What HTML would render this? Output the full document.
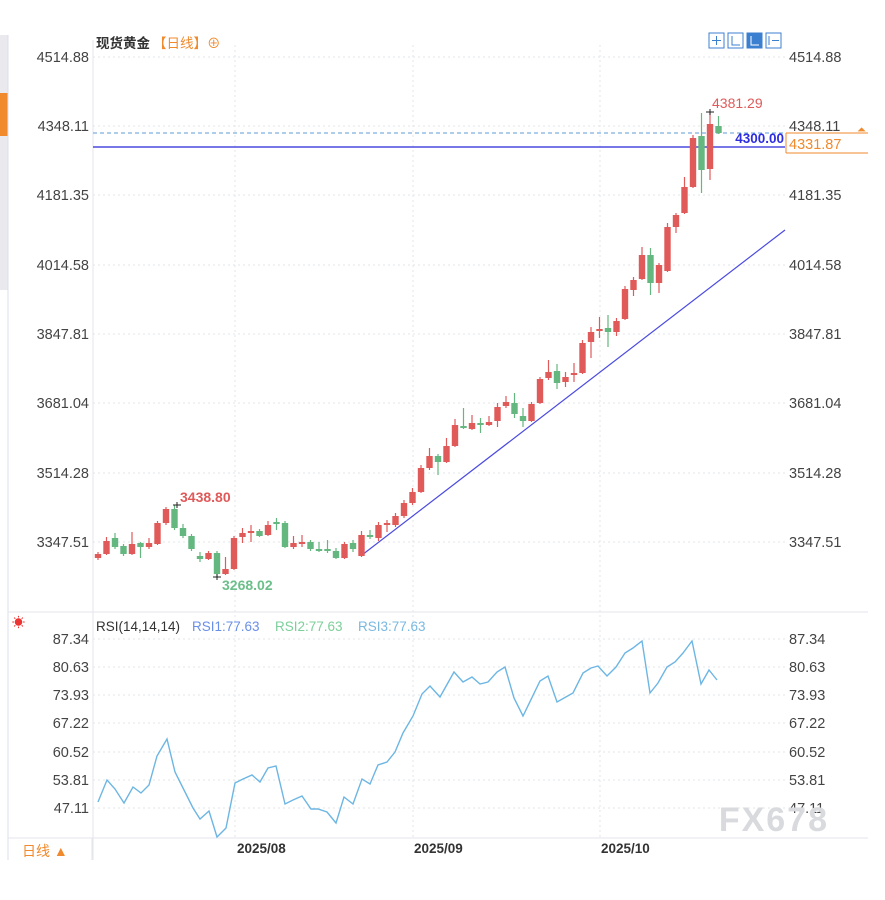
<!DOCTYPE html>
<html><head><meta charset="utf-8"><style>
html,body{margin:0;padding:0;background:#fff;width:885px;height:900px;overflow:hidden}
text{font-family:"Liberation Sans","Noto Sans CJK SC",sans-serif}
</style></head><body>
<svg id="s" width="885" height="900" xmlns="http://www.w3.org/2000/svg">
<rect x="0" y="0" width="885" height="900" fill="#fff"/>
<rect x="0" y="35" width="8" height="255" fill="#e9e9ee"/>
<rect x="0" y="93" width="8" height="43" fill="#f08a2c"/>
<line x1="8" y1="35" x2="8" y2="860" stroke="#dde" stroke-width="1"/>
<line x1="93" y1="40" x2="93" y2="860" stroke="#e4e6ec"/>
<line x1="8" y1="612" x2="868" y2="612" stroke="#e4e6ec"/>
<line x1="8" y1="838" x2="868" y2="838" stroke="#e4e6ec"/>
<g id="grid" stroke="#e2e5ea" stroke-dasharray="2,3"></g>
<g id="labels" font-size="14.5" fill="#444"></g>
<text x="96" y="48" font-size="13.5" fill="#333" font-weight="bold">现货黄金</text>
<text x="153" y="48" font-size="13.5" fill="#f08a2c">【日线】⊕</text>
<g fill="none" stroke="#3b7fd0">
<rect x="709" y="33" width="15" height="15"/><rect x="728" y="33" width="15" height="15"/>
<rect x="747" y="33" width="15" height="15" fill="#3b7fd0"/><rect x="766" y="33" width="15" height="15"/>
<path d="M716.5 36v9M712 40.5h9M732 36v9h8M769 36v9M772 40.5h7"/>
<path d="M751 36v9h8" stroke="#fff"/>
</g>
<line x1="93" y1="133" x2="785" y2="133" stroke="#5b9bd5" stroke-dasharray="4,3"/>
<line x1="93" y1="147" x2="785" y2="147" stroke="#4a4ae0" stroke-width="1.5"/>
<line x1="362" y1="555" x2="785" y2="230" stroke="#4a4ae0" stroke-width="1.2"/>
<text x="784" y="143" font-size="13.5" fill="#2e2ee0" font-weight="bold" text-anchor="end">4300.00</text>
<path d="M786 133H868M786 153H868M786 133V153" stroke="#f08a2c" fill="none"/>
<text x="789" y="149" font-size="14.5" fill="#f08a2c">4331.87</text>
<text x="857" y="133" font-size="11" fill="#f08a2c">⏶</text>
<g id="candles"></g>
<text x="712" y="108" font-size="14" fill="#e05a5a">4381.29</text>
<text x="180" y="502" font-size="14" fill="#e05a5a" font-weight="bold">3438.80</text>
<text x="222" y="590" font-size="14" fill="#6cbf8a" font-weight="bold">3268.02</text>
<text x="12" y="627" font-size="13" fill="#e33">☀</text>
<text x="96" y="631" font-size="13.5" fill="#333">RSI(14,14,14)</text>
<text x="192" y="631" font-size="13.5" fill="#6a8fe8">RSI1:77.63</text>
<text x="275" y="631" font-size="13.5" fill="#7ccf9a">RSI2:77.63</text>
<text x="358" y="631" font-size="13.5" fill="#7ab8e0">RSI3:77.63</text>
<polyline id="rsi" fill="none" stroke="#6db6e3" stroke-width="1.4"/>
<text x="829" y="831" font-size="34" fill="#d8dade" text-anchor="end" font-weight="bold" letter-spacing="2">FX678</text>
<line x1="92" y1="838" x2="92" y2="860" stroke="#e4e6ec"/>
<text x="22" y="856" font-size="14" fill="#f08a2c">日线 ▲</text>
<g font-size="13.5" fill="#333" font-weight="bold">
<text x="237" y="853">2025/08</text><text x="414" y="853">2025/09</text><text x="601" y="853">2025/10</text>
</g>
</svg>
<script>
var NS="http://www.w3.org/2000/svg";
function el(p,t,a,txt){var e=document.createElementNS(NS,t);for(var k in a)e.setAttribute(k,a[k]);if(txt)e.textContent=txt;document.getElementById(p).appendChild(e);return e;}
var py=[57,126,195,265,334,403,473,542],pl=["4514.88","4348.11","4181.35","4014.58","3847.81","3681.04","3514.28","3347.51"];
py.forEach(function(y,i){el("grid","line",{x1:93,y1:y,x2:785,y2:y});el("labels","text",{x:89,y:y+5,"text-anchor":"end"},pl[i]);el("labels","text",{x:789,y:y+5},pl[i]);});
var ry=[639,667,695,723,752,780,808],rl=["87.34","80.63","73.93","67.22","60.52","53.81","47.11"];
ry.forEach(function(y,i){el("grid","line",{x1:93,y1:y,x2:785,y2:y});el("labels","text",{x:89,y:y+5,"text-anchor":"end"},rl[i]);el("labels","text",{x:789,y:y+5},rl[i]);});
[235,413,600].forEach(function(x){el("grid","line",{x1:x,y1:45,x2:x,y2:838});});
var C=[[554,558,552,560,1],[541,554,537,555,1],[538,547,533,549,0],[546,554,544,556,0],[544,554,532,555,1],[543,547,542,558,0],[543,547,538,549,1],[523,544,521,545,1],[509,523,507,525,1],[509,528,505,530,0],[528,536,524,538,0],[536,549,534,551,0],[556,559,552,562,0],[553,559,551,560,1],[553,574,551,577,0],[569,574,557,575,1],[538,569,536,570,1],[533,537,528,543,1],[531,533,525,542,1],[531,536,529,537,0],[525,535,521,536,1],[522,524,518,530,0],[523,547,521,548,0],[543,547,536,549,1],[542,544,535,547,1],[542,549,540,551,0],[549,551,542,552,0],[549,551,540,553,0],[551,558,548,559,0],[544,558,542,559,1],[543,549,540,552,0],[535,556,531,557,1],[535,537,530,539,0],[525,538,522,541,1],[523,525,520,532,1],[516,525,513,527,1],[503,516,500,518,1],[492,503,488,505,1],[468,492,465,493,1],[456,468,448,470,1],[456,462,454,475,0],[446,462,438,463,1],[425,446,419,447,1],[426,428,408,429,0],[423,429,415,430,1],[423,425,418,433,0],[422,425,416,426,1],[407,421,403,427,1],[402,406,396,408,1],[403,414,393,418,0],[416,421,408,427,0],[404,421,402,422,1],[379,403,377,404,1],[372,378,360,380,1],[371,383,364,389,0],[377,382,372,387,1],[373,375,363,382,1],[343,373,340,374,1],[332,342,327,358,1],[329,331,317,338,1],[328,332,315,347,0],[321,332,318,336,1],[289,319,286,320,1],[280,290,277,296,1],[255,279,247,280,1],[255,283,248,295,0],[265,283,263,293,1],[227,271,223,272,1],[215,227,213,233,1],[187,213,177,214,1],[138,187,135,188,1],[136,170,113,193,0],[124,169,112,180,1],[126,133,116,134,0]];
C.forEach(function(c,i){var x=98+8.5*i,col=c[4]?"#e05a5a":"#63b77f";
el("candles","line",{x1:x,y1:c[2],x2:x,y2:c[3],stroke:col,"stroke-width":1.2});
el("candles","rect",{x:x-3.2,y:c[0],width:6.4,height:Math.max(1.5,c[1]-c[0]),fill:col});});
el("candles","path",{d:"M173 505h8M177 502v6M213 577h8M217 574v6M706 112h8M710 109v6",stroke:"#222","stroke-width":1});
var R="98,802 107,780 115,789 124,803 133,787 141,793 149,785 157,756 167,739 175,772 183,788 193,808 200,819 209,811 217,837 226,828 235,783 243,779 252,775 260,782 268,768 276,766 285,804 293,800 302,796 311,809 318,809 327,812 336,823 344,797 353,804 362,779 370,784 378,765 387,762 395,752 403,733 413,716 422,694 430,686 440,697 454,672 463,682 472,677 480,684 488,682 497,672 505,667 514,698 523,716 540,681 548,676 557,702 573,693 583,673 591,668 598,666 607,676 616,667 625,653 633,648 642,641 650,693 658,683 667,667 675,662 683,653 692,641 701,684 709,670 717,680";
document.getElementById("rsi").setAttribute("points",R);
</script>
</body></html>
